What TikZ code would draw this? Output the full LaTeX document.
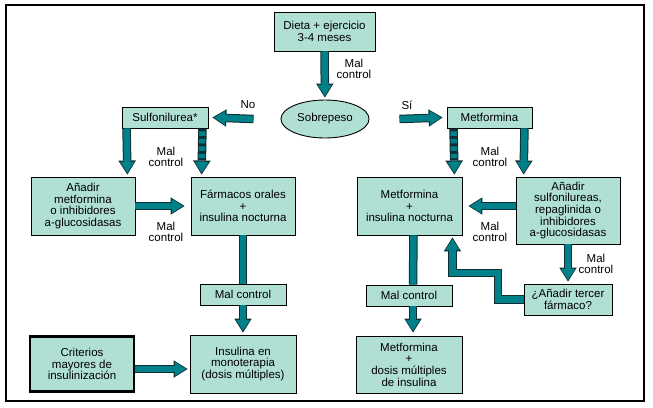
\documentclass[tikz,border=0pt]{standalone}
\usepackage{fontspec}
\setmainfont{Liberation Sans}
\usetikzlibrary{arrows.meta}
\usetikzlibrary{shapes.geometric}

\definecolor{verdeclaro}{RGB}{176,224,212}
\definecolor{verdeflecha}{RGB}{0,128,136}
\definecolor{bordeflecha}{RGB}{15,45,50}
\newcommand\letra{\fontsize{11.5}{11.7}\selectfont}

\tikzset{
  caja/.style={draw=black, fill=verdeclaro, line width=0.9pt, align=center, inner sep=1pt, font=\letra},
  rotulo/.style={align=center, font=\letra},
  flecha/.style={draw=verdeflecha, line width=6.5pt, line join=miter,
    -{Triangle[width=14pt,length=11pt,sep=1.6pt,line width=0pt]},
    preaction={draw=bordeflecha, line width=8.5pt, line join=miter,
      -{Triangle[width=17.5pt,length=14pt,line width=0pt]}}},
  tramo/.style={draw=verdeflecha, line width=6.5pt,
    preaction={draw=bordeflecha, line width=8.5pt}},
  discontinua/.style={dash pattern=on 4.5pt off 3pt, dash phase=4.5pt},
}

\begin{document}
\begin{tikzpicture}[x=1pt,y=-1pt]

\useasboundingbox (0,0) rectangle (653,407);
\draw[line width=1.2pt] (6,5) rectangle (644,401);

% cajas
\node[caja, minimum width=101pt, minimum height=39pt] (dieta) at (324.5,31.5) {Dieta + ejercicio\\3-4 meses};
\node[ellipse, draw=black, fill=verdeclaro, line width=0.9pt, font=\letra, minimum width=85pt, minimum height=38pt] (sobrepeso) at (325,119) {Sobrepeso};
\node[caja, minimum width=86pt, minimum height=21pt] (sulfo) at (165,117.5) {Sulfonilurea*};
\node[caja, minimum width=85pt, minimum height=21pt] (metf) at (489.5,117.5) {Metformina};

\node[caja, minimum width=104pt, minimum height=58pt] (addmet) at (83,206) {Añadir\\metformina\\o inhibidores\\a-glucosidasas};
\node[caja, minimum width=104pt, minimum height=58pt] (farm) at (243,206) {Fármacos orales\\+\\insulina nocturna};
\node[caja, minimum width=105pt, minimum height=58pt] (metins) at (409.5,206) {Metformina\\+\\insulina nocturna};
\node[caja, minimum width=104pt, minimum height=67pt] (addsulf) at (568,210.5) {Añadir\\sulfonilureas,\\repaglinida o\\inhibidores\\a-glucosidasas};

\node[caja, minimum width=86pt, minimum height=21pt] (malL) at (243,294.5) {Mal control};
\node[caja, minimum width=86pt, minimum height=21pt] (malR) at (409,295.5) {Mal control};
\node[caja, minimum width=88pt, minimum height=31pt] (tercer) at (568,299.5) {¿Añadir tercer\\fármaco?};

\node[caja, line width=2.6pt, minimum width=104pt, minimum height=55pt] (criterios) at (82,364) {Criterios\\mayores de\\insulinización};
\node[caja, minimum width=106pt, minimum height=58pt] (insmono) at (243,364) {Insulina en\\monoterapia\\(dosis múltiples)};
\node[caja, minimum width=106pt, minimum height=57pt] (metdosis) at (409,364.5) {Metformina\\+\\dosis múltiples\\de insulina};

% flechas
\draw[flecha, shorten >=2pt] (dieta) -- (sobrepeso);
\draw[flecha] ([xshift=-27pt]sobrepeso.west) -- ([xshift=4pt]sulfo.east);
\draw[flecha] ([xshift=30pt]sobrepeso.east) -- ([xshift=-4pt]metf.west);

\draw[flecha, shorten >=2pt] ([xshift=5pt]sulfo.south west) -- ([xshift=-8pt]addmet.north east);
\draw[flecha, discontinua, shorten >=2pt] ([xshift=-6pt]sulfo.south east) -- ([xshift=11pt]farm.north west);
\draw[flecha, discontinua, shorten >=2pt] ([xshift=7pt]metf.south west) -- ([xshift=-8pt]metins.north east);
\draw[flecha, shorten >=2pt] ([xshift=-8pt]metf.south east) -- ([xshift=8pt]addsulf.north west);

\draw[flecha, shorten >=6pt] (addmet.east) -- (farm.west);
\draw[flecha, shorten >=6pt] ([yshift=4.5pt]addsulf.west) -- (metins.east);

\draw[tramo] (farm.south) -- (malL.north);
\draw[flecha, shorten >=2pt] (malL.south) -- (insmono.north);
\draw[tramo] ([xshift=4pt]metins.south) -- ([xshift=4pt]malR.north);
\draw[flecha, shorten >=3pt] ([xshift=4pt]malR.south) -- ([xshift=4pt]metdosis.north);

\draw[flecha, shorten >=2pt] (addsulf.south) -- (tercer.north);
\coordinate (codo) at (498,273);
\draw[flecha, shorten >=2pt] (tercer.west) -| (codo) -| ([xshift=-10pt]metins.south east);

\draw[flecha, shorten >=2pt] ([yshift=-5pt]criterios.east) -- ([yshift=-5pt]insmono.west);

% rotulos
\node[rotulo] (mc1) at (354,69) {Mal\\control};
\node[rotulo] (no) at (248,105) {No};
\node[rotulo] (si) at (407,105) {Sí};
\node[rotulo] (mc2) at (166,157) {Mal\\control};
\node[rotulo] (mc3) at (490,157) {Mal\\control};
\node[rotulo] (mc4) at (166,232) {Mal\\control};
\node[rotulo] (mc5) at (490,232) {Mal\\control};
\node[rotulo] (mc6) at (596,264) {Mal\\control};

\end{tikzpicture}
\end{document}
